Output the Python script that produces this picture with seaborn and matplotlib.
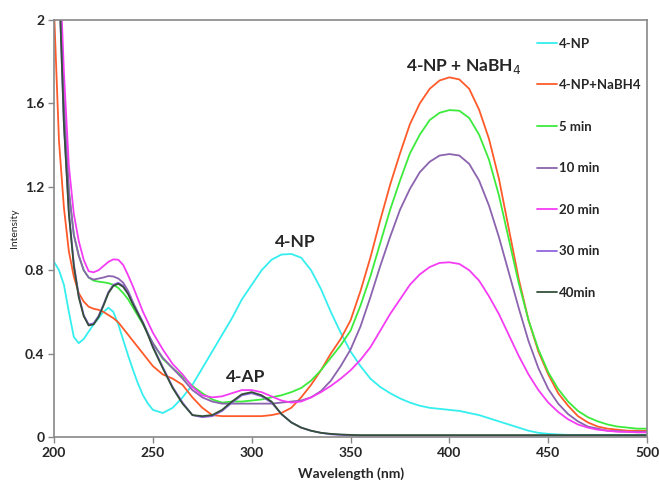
# uv-vis spectra: 4-NP reduction by NaBH4

import pandas as pd
import matplotlib.pyplot as plt
import seaborn as sns

# --- Data ---
# 2.5 nm steps below 250 nm where the curves bend sharply, 5 nm after
wavelength = [200, 202.5, 205, 207.5, 210, 212.5, 215, 217.5, 220, 222.5, 225, 227.5,
              230, 232.5, 235, 237.5, 240, 242.5, 245, 247.5, 250] + list(range(255, 505, 5))

np4 = [0.84, 0.80, 0.73, 0.60, 0.48, 0.45, 0.47, 0.505, 0.54, 0.57, 0.60, 0.62,
       0.60, 0.54, 0.465, 0.39, 0.32, 0.255, 0.20, 0.16, 0.13,
       0.115, 0.14, 0.19, 0.25, 0.33, 0.41, 0.49, 0.57, 0.66, 0.73, 0.80, 0.85, 0.875,
       0.878, 0.86, 0.80, 0.71, 0.60, 0.50, 0.41, 0.34, 0.28, 0.24, 0.21, 0.185, 0.165,
       0.15, 0.14, 0.135, 0.13, 0.125, 0.115, 0.105, 0.09, 0.075, 0.06, 0.045, 0.03,
       0.02, 0.015, 0.012, 0.01, 0.01, 0.01, 0.01, 0.01, 0.01, 0.01, 0.01, 0.01]

np4_nabh4 = [2.05, 1.42, 1.10, 0.89, 0.77, 0.69, 0.65, 0.625, 0.615, 0.61, 0.60, 0.585,
             0.57, 0.55, 0.52, 0.49, 0.46, 0.43, 0.40, 0.37, 0.34,
             0.30, 0.28, 0.25, 0.19, 0.14, 0.105, 0.10, 0.10, 0.10, 0.10, 0.10, 0.105,
             0.115, 0.14, 0.19, 0.25, 0.32, 0.40, 0.47, 0.56, 0.70, 0.86, 1.04, 1.21, 1.36,
             1.50, 1.60, 1.67, 1.71, 1.725, 1.715, 1.67, 1.57, 1.43, 1.24, 1.00, 0.76, 0.56,
             0.41, 0.30, 0.21, 0.15, 0.10, 0.07, 0.05, 0.04, 0.035, 0.03, 0.03, 0.03]

min5 = [2.8, 2.25, 1.6, 1.18, 0.97, 0.87, 0.80, 0.765, 0.75, 0.745, 0.742, 0.738,
        0.73, 0.715, 0.69, 0.66, 0.62, 0.58, 0.54, 0.495, 0.45,
        0.375, 0.33, 0.29, 0.245, 0.21, 0.18, 0.165, 0.17, 0.17, 0.175, 0.18, 0.19, 0.20,
        0.215, 0.235, 0.27, 0.32, 0.38, 0.44, 0.51, 0.63, 0.77, 0.93, 1.09, 1.23, 1.36,
        1.45, 1.52, 1.555, 1.568, 1.565, 1.53, 1.45, 1.33, 1.16, 0.95, 0.74, 0.56, 0.42,
        0.31, 0.23, 0.17, 0.125, 0.095, 0.075, 0.06, 0.05, 0.045, 0.04, 0.04]

min10 = [2.8, 2.25, 1.6, 1.18, 0.97, 0.87, 0.80, 0.765, 0.755, 0.76, 0.765, 0.772,
         0.77, 0.76, 0.74, 0.70, 0.645, 0.595, 0.545, 0.495, 0.45,
         0.38, 0.33, 0.28, 0.225, 0.19, 0.17, 0.16, 0.16, 0.16, 0.16, 0.16, 0.16, 0.165,
         0.17, 0.175, 0.19, 0.22, 0.27, 0.34, 0.42, 0.53, 0.67, 0.82, 0.96, 1.09, 1.19,
         1.27, 1.32, 1.35, 1.357, 1.35, 1.31, 1.23, 1.11, 0.96, 0.79, 0.62, 0.46, 0.33,
         0.23, 0.16, 0.11, 0.075, 0.05, 0.04, 0.03, 0.028, 0.025, 0.025, 0.025]

min20 = [2.8, 2.35, 1.75, 1.30, 1.07, 0.94, 0.85, 0.795, 0.79, 0.80, 0.82, 0.84,
         0.852, 0.85, 0.825, 0.775, 0.72, 0.66, 0.60, 0.55, 0.50,
         0.42, 0.35, 0.30, 0.24, 0.20, 0.19, 0.195, 0.21, 0.225, 0.225, 0.215, 0.195,
         0.175, 0.165, 0.17, 0.19, 0.215, 0.245, 0.28, 0.32, 0.37, 0.43, 0.51, 0.59, 0.66,
         0.73, 0.78, 0.815, 0.835, 0.838, 0.83, 0.80, 0.75, 0.675, 0.59, 0.49, 0.39, 0.30,
         0.225, 0.165, 0.12, 0.085, 0.06, 0.045, 0.035, 0.03, 0.025, 0.025, 0.022, 0.022]

min30 = [2.8, 2.2, 1.5, 1.08, 0.83, 0.68, 0.585, 0.54, 0.545, 0.58, 0.635, 0.695,
         0.73, 0.74, 0.725, 0.69, 0.64, 0.595, 0.55, 0.495, 0.435,
         0.335, 0.24, 0.165, 0.105, 0.095, 0.10, 0.125, 0.165, 0.20, 0.21, 0.195, 0.165,
         0.11, 0.07, 0.045, 0.03, 0.02, 0.013, 0.01, 0.007, 0.006, 0.006, 0.006, 0.006,
         0.006, 0.006, 0.006, 0.006, 0.006, 0.006, 0.006, 0.006, 0.006, 0.006, 0.006,
         0.006, 0.006, 0.006, 0.006, 0.006, 0.006, 0.006, 0.006, 0.006, 0.006, 0.006,
         0.006, 0.006, 0.006, 0.006]

min40 = [2.8, 2.2, 1.5, 1.07, 0.82, 0.67, 0.58, 0.535, 0.54, 0.575, 0.63, 0.69,
         0.725, 0.735, 0.72, 0.685, 0.635, 0.59, 0.545, 0.49, 0.43,
         0.33, 0.235, 0.16, 0.105, 0.10, 0.105, 0.13, 0.17, 0.205, 0.215, 0.20, 0.17,
         0.11, 0.07, 0.045, 0.03, 0.02, 0.015, 0.012, 0.01, 0.009, 0.009, 0.009, 0.009,
         0.009, 0.009, 0.009, 0.009, 0.009, 0.009, 0.009, 0.009, 0.009, 0.009, 0.009,
         0.009, 0.009, 0.009, 0.009, 0.009, 0.009, 0.009, 0.009, 0.009, 0.009, 0.009,
         0.009, 0.009, 0.009, 0.009]

labels = ["4-NP", "4-NP+NaBH4", "5 min", "10 min", "20 min", "30 min", "40min"]
series = [np4, np4_nabh4, min5, min10, min20, min30, min40]
colors = ["#35EEEE", "#FF5A2A", "#3CEB3C", "#8B63AE", "#F43CF4", "#9266DC", "#34503A"]

# --- Long-form table ---
frames = []
for name, vals in zip(labels, series):
    frames.append(pd.DataFrame({"wavelength": wavelength, "intensity": vals, "sample": name}))
df = pd.concat(frames, ignore_index=True)

# --- Plot ---
sns.set_theme(style="ticks")
plt.rcParams["font.family"] = ["Lato", "DejaVu Sans"]

fig = plt.figure(figsize=(6.59, 4.80), dpi=100)
ax = fig.add_axes([0.082, 0.0896, 0.9, 0.8687])

sns.lineplot(data=df, x="wavelength", y="intensity", hue="sample", hue_order=labels,
             palette=colors, linewidth=1.3, errorbar=None, ax=ax)

ax.set_xlim(200, 500)
ax.set_ylim(0, 2)
ax.set_xticks([200, 250, 300, 350, 400, 450, 500])
ax.set_yticks([0, 0.4, 0.8, 1.2, 1.6, 2])
ax.set_yticklabels(["0", "0.4", "0.8", "1.2", "1.6", "2"])
for t in ax.get_xticklabels() + ax.get_yticklabels():
    t.set_fontweight("bold")
    t.set_fontsize(10)
ax.tick_params(direction="out", length=4, width=1, color="#888888", pad=3)
for s in ax.spines.values():
    s.set_color("#888888")
    s.set_linewidth(1.2)

ax.set_xlabel("Wavelength (nm)", fontsize=10, fontweight="bold", labelpad=6)
ax.set_ylabel("Intensity", fontsize=7.5, labelpad=4)

# peak annotations
ax.text(322, 0.935, "4-NP", fontsize=12.5, fontweight="bold", ha="center", va="center")
ax.text(297, 0.29, "4-AP", fontsize=12.5, fontweight="bold", ha="center", va="center")
ax.text(407, 1.775, "4-NP + NaBH$_4$", fontsize=12.5, fontweight="bold", ha="center", va="center")

# legend stacked down the right edge
handles, lbls = ax.get_legend_handles_labels()
ax.legend(handles, lbls, loc="upper left", bbox_to_anchor=(0.815, 0.958), frameon=False,
          prop={"weight": "bold", "size": 9.5}, labelspacing=2.24, handlelength=1.5,
          handletextpad=0.1, borderaxespad=0, borderpad=0)

plt.savefig("out.png", dpi=100)
plt.close()
